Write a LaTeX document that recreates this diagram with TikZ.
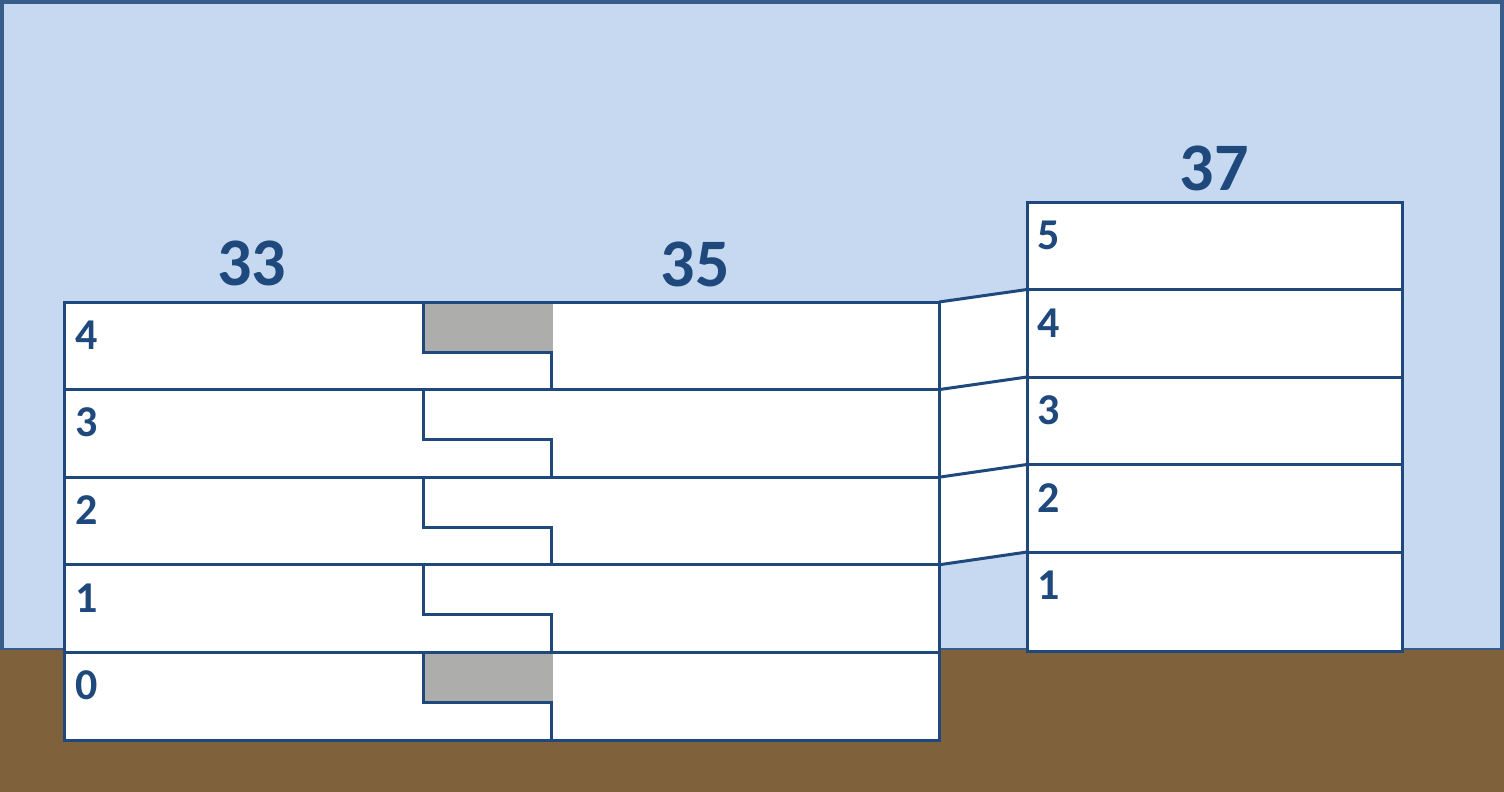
\documentclass[tikz,border=0pt]{standalone}
\usepackage{fontspec}
\setmainfont{Carlito}
\usetikzlibrary{backgrounds}
\definecolor{sky}{HTML}{C6D9F1}
\definecolor{frame}{HTML}{385D8A}
\definecolor{wall}{HTML}{1F497D}
\definecolor{soil}{HTML}{7F623C}
\definecolor{stone}{HTML}{ADADAB}
\tikzset{
  floorbox/.style={draw=wall, fill=white, line width=3pt, rectangle, inner sep=0pt, outer sep=0pt, anchor=north west},
  leftfloor/.style={floorbox, minimum width=875pt, minimum height=87.6pt},
  rightfloor/.style={floorbox, minimum width=375pt, minimum height=#1},
  wallline/.style={draw=wall, line width=3pt},
  floornum/.style={text=wall, inner sep=0pt, font=\fontsize{44pt}{44pt}\selectfont\bfseries},
  bldnum/.style={text=wall, inner sep=0pt, font=\fontsize{68pt}{68pt}\selectfont\bfseries},
  greypart/.style={fill=stone}
}
\begin{document}
\begin{tikzpicture}[x=1pt,y=-1pt]
\useasboundingbox (0,0) rectangle (1504,792);
% left building floors
\node[leftfloor] (L4) at (64,302) {};
\node[leftfloor] (L3) at (64,389.6) {};
\node[leftfloor] (L2) at (64,477.2) {};
\node[leftfloor] (L1) at (64,564.8) {};
\node[leftfloor] (L0) at (64,652.4) {};
% right building floors
\node[rightfloor=87.5pt] (R5) at (1027,202) {};
\node[rightfloor=87.5pt] (R4) at (1027,289.5) {};
\node[rightfloor=87.5pt] (R3) at (1027,377) {};
\node[rightfloor=87.5pt] (R2) at (1027,464.5) {};
\node[rightfloor=99.5pt] (R1) at (1027,552) {};
% grey parts
\fill[greypart] ([shift={(360.5,1.5)}]L4.north west) rectangle ([shift={(489,48.5)}]L4.north west);
\fill[greypart] ([shift={(360.5,1.5)}]L0.north west) rectangle ([shift={(489,48.5)}]L0.north west);
% step dividers
\foreach \f in {L4,L3,L2,L1,L0}{
  \draw[wallline] ([xshift=359pt]\f.north west) -- ++(0,50) -- ++(128,0) -- ([xshift=487pt]\f.south west);
}
% connectors
\draw[wallline] (L4.north east) -- (R4.north west);
\draw[wallline] (L3.north east) -- (R3.north west);
\draw[wallline] (L2.north east) -- (R2.north west);
\draw[wallline] (L1.north east) -- (R1.north west);
% floor numbers
\node[floornum] (n4) at ([shift={(23,33)}]L4.north west) {4};
\node[floornum] (n3) at ([shift={(23,33)}]L3.north west) {3};
\node[floornum] (n2) at ([shift={(23,33)}]L2.north west) {2};
\node[floornum] (n1) at ([shift={(23,33)}]L1.north west) {1};
\node[floornum] (n0) at ([shift={(23,33)}]L0.north west) {0};
\node[floornum] (m5) at ([shift={(22,33.5)}]R5.north west) {5};
\node[floornum] (m4) at ([shift={(22,33.5)}]R4.north west) {4};
\node[floornum] (m3) at ([shift={(22,33.5)}]R3.north west) {3};
\node[floornum] (m2) at ([shift={(22,33.5)}]R2.north west) {2};
\node[floornum] (m1) at ([shift={(22,33.5)}]R1.north west) {1};
% building numbers
\node[bldnum] (b33) at (251.5,263.5) {33};
\node[bldnum] (b35) at (695,264) {35};
\node[bldnum] (b37) at (1214,168) {37};
% background
\begin{scope}[on background layer]
  \fill[sky] (0,0) rectangle (1504,650);
  \draw[frame, line width=4pt] (2,2) rectangle (1502,650);
  \fill[soil] (0,649.5) rectangle (1504,792);
  \fill[white] (L4.north east) -- (R4.north west) -- (R1.north west) -- (L1.north east) -- cycle;
\end{scope}
\end{tikzpicture}
\end{document}
